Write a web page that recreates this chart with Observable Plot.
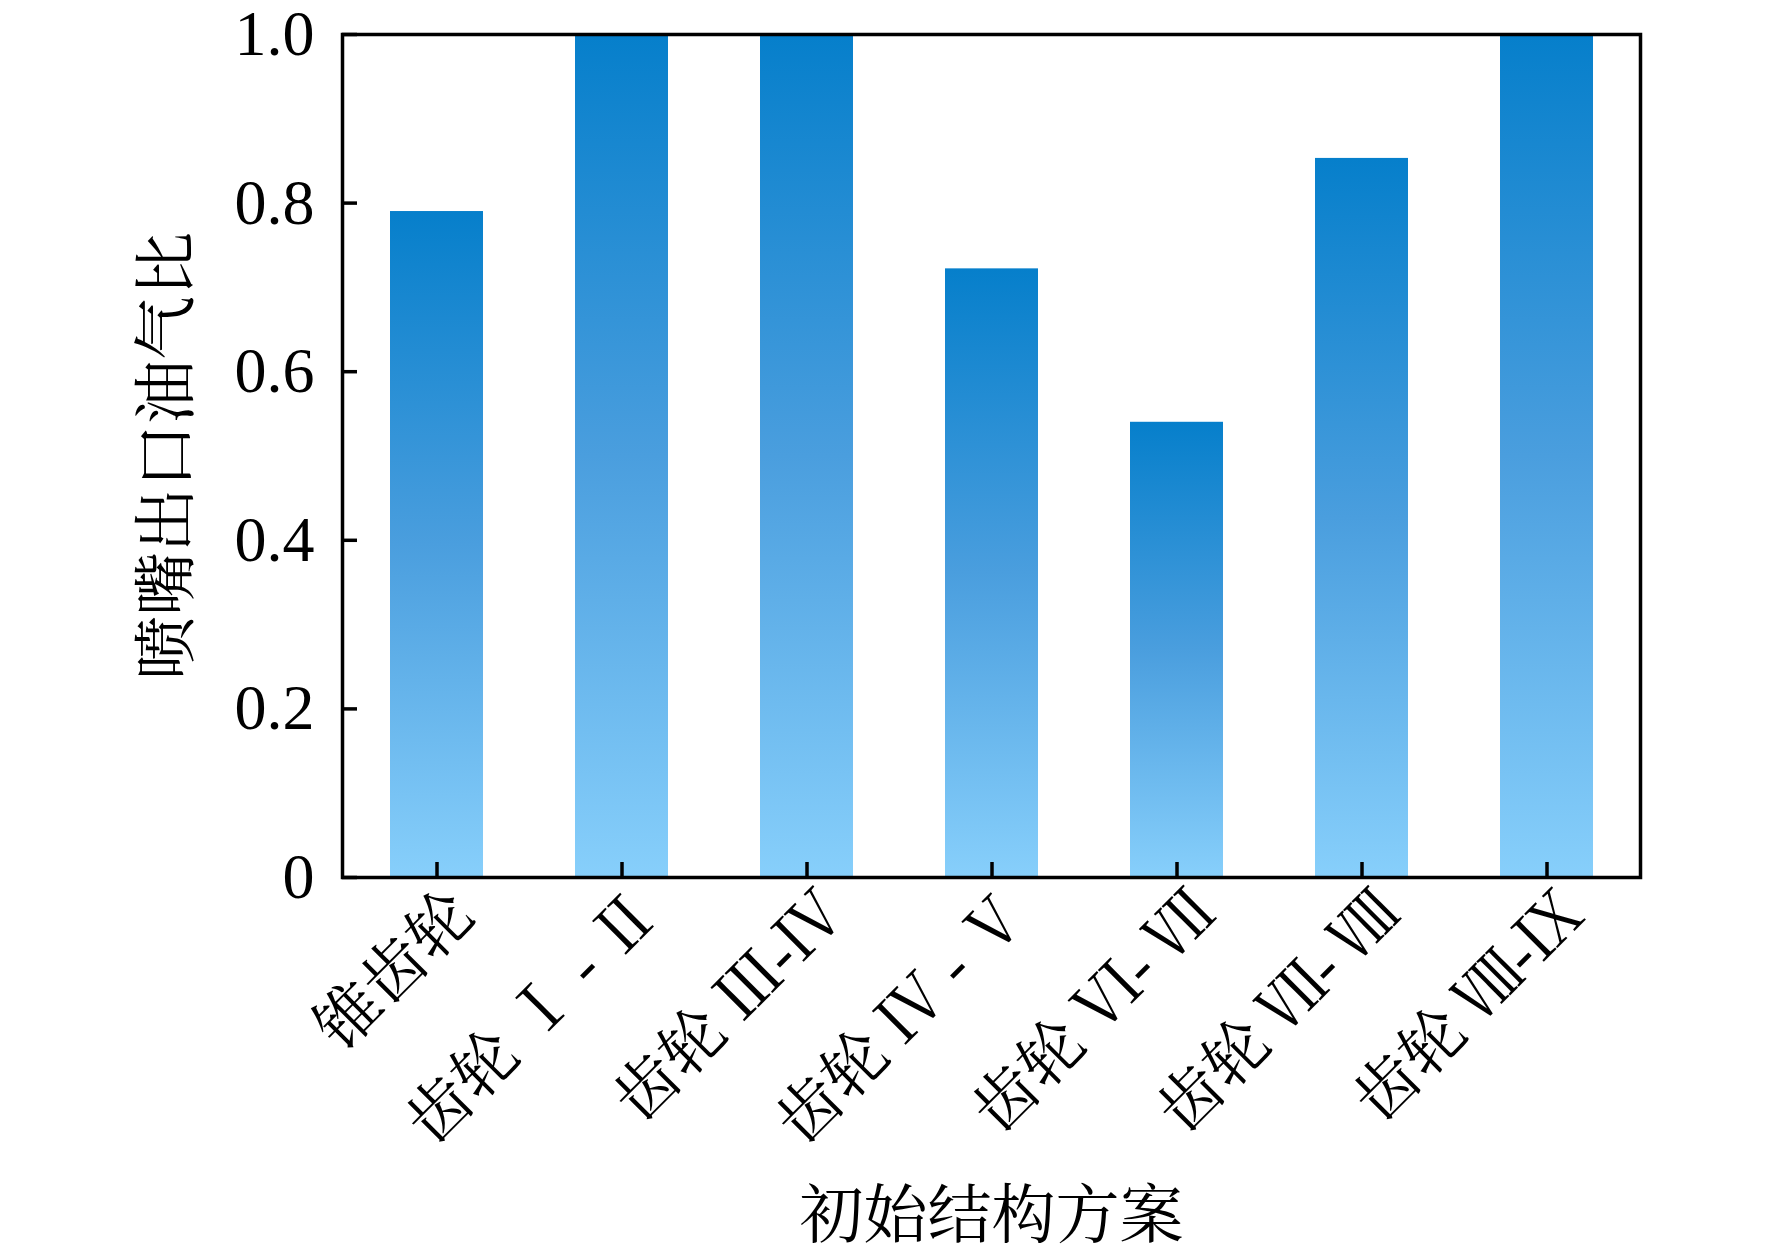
<!DOCTYPE html>
<html>
<head>
<meta charset="utf-8">
<script src="https://cdn.jsdelivr.net/npm/d3@7"></script>
<script src="https://cdn.jsdelivr.net/npm/@observablehq/plot@0.6"></script>
<style>
  html, body { margin: 0; padding: 0; background: #fff; }
  svg text { white-space: pre; }
</style>
</head>
<body>
<div id="chart"></div>
<script>
const categories = ["锥齿轮", "齿轮 Ⅰ - Ⅱ", "齿轮 Ⅲ-Ⅳ", "齿轮 Ⅳ - Ⅴ", "齿轮 Ⅵ- Ⅶ", "齿轮 Ⅶ- Ⅷ", "齿轮 Ⅷ-Ⅸ"];
const ratios = [0.79, 1.0, 1.0, 0.722, 0.54, 0.853, 1.0];
const yTicks = [0, 0.2, 0.4, 0.6, 0.8, 1.0];
const yTickLabels = ["0", "0.2", "0.4", "0.6", "0.8", "1.0"];
const yTitle = "喷嘴出口油气比";
const xTitle = "初始结构方案";

const data = categories.map((c, i) => ({category: c, value: ratios[i]}));
const FONT = "'Liberation Serif', 'Noto Serif CJK SC', 'Noto Sans CJK SC', serif";

const chart = Plot.plot({
  width: 1772,
  height: 1257,
  marginLeft: 342,
  marginRight: 132,
  marginTop: 34,
  marginBottom: 380,
  style: {fontFamily: FONT, fontSize: "64px", color: "#000", background: "#fff"},
  x: {domain: categories, paddingInner: 0.5, paddingOuter: 0.25},
  y: {domain: [0, 1]},
  marks: [
    Plot.barY(data, {x: "category", y: "value", fill: "url(#barGrad)"}),
    Plot.axisY({ticks: yTicks, tickSize: 0, tickPadding: 28, tickFormat: (d) => yTickLabels[yTicks.indexOf(d)], label: null, fontSize: 64}),
    Plot.axisY({ticks: yTicks, tickSize: -15, text: null, label: null, strokeWidth: 3.5}),
    Plot.axisX({tickSize: 0, tickPadding: 26, tickRotate: -45, dx: 26, label: null, fontSize: 64}),
    Plot.axisX({tickSize: -15, text: null, label: null, strokeWidth: 3.5}),
    Plot.frame({stroke: "#000", strokeWidth: 3.5}),
    Plot.text([yTitle], {frameAnchor: "left", rotate: -90, dx: -175, textAnchor: "middle", lineAnchor: "middle", fontSize: 64, fill: "#000"}),
    Plot.text([xTitle], {frameAnchor: "bottom", dy: 339, textAnchor: "middle", lineAnchor: "middle", fontSize: 64, fill: "#000"})
  ]
});

const ns = "http://www.w3.org/2000/svg";
const defs = document.createElementNS(ns, "defs");
const grad = document.createElementNS(ns, "linearGradient");
grad.setAttribute("id", "barGrad");
grad.setAttribute("x1", "0"); grad.setAttribute("y1", "0");
grad.setAttribute("x2", "0"); grad.setAttribute("y2", "1");
[["0%", "#067fcb"], ["50%", "#4a9ede"], ["100%", "#87cffb"]].forEach(([o, c]) => {
  const s = document.createElementNS(ns, "stop");
  s.setAttribute("offset", o);
  s.setAttribute("stop-color", c);
  grad.appendChild(s);
});
defs.appendChild(grad);
chart.insertBefore(defs, chart.firstChild);
document.getElementById("chart").appendChild(chart);
</script>
</body>
</html>
